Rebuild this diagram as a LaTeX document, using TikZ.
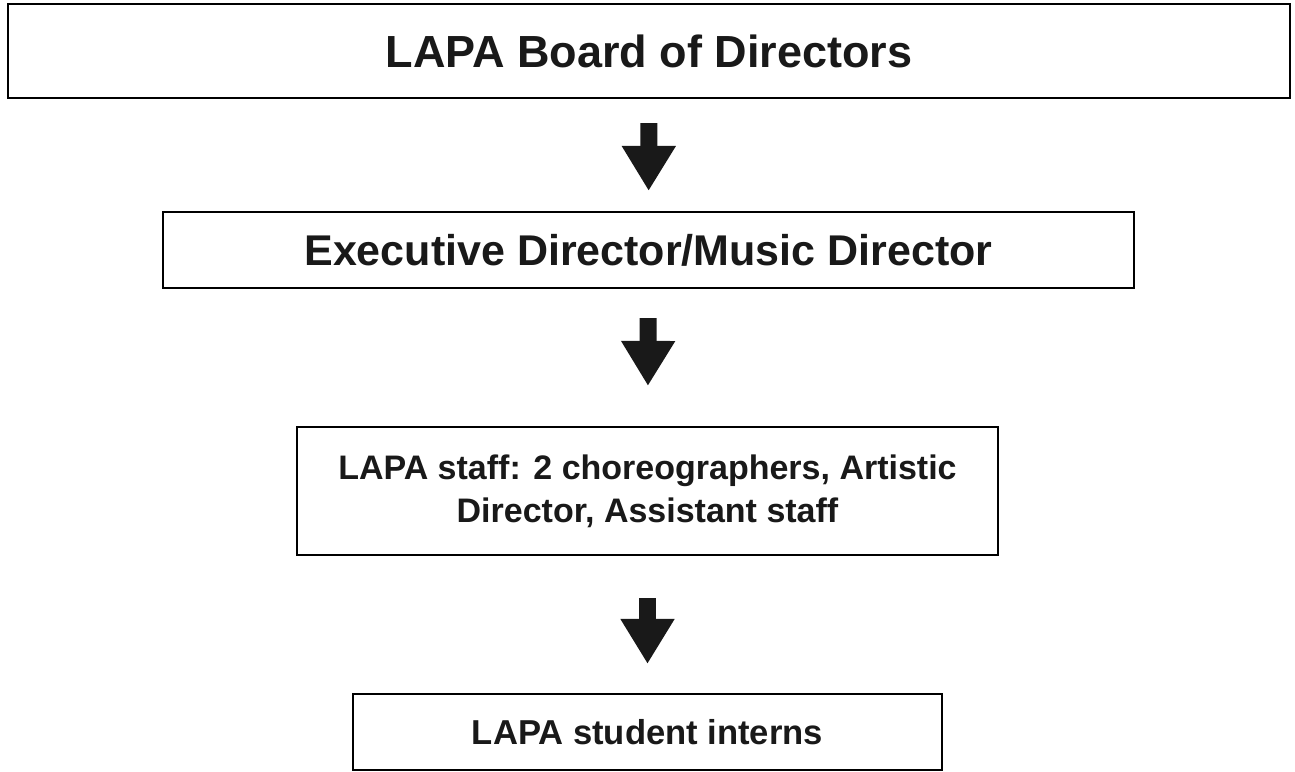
\documentclass[tikz,border=0pt]{standalone}
\usepackage{fontspec}
\setmainfont{Liberation Sans}
\usetikzlibrary{arrows.meta}
\tikzstyle{boite}=[rectangle,draw,line width=1.1pt,fill=white,
text=black!90,font=\bfseries,align=center,inner sep=0pt]
\tikzstyle{fleche}=[line width=8.5pt,black!90,
-{Triangle[width=25.5pt,length=22.5pt]}]

\begin{document}
\begin{tikzpicture}[x=0.5pt,y=-0.5pt]
\useasboundingbox (0,0) rectangle (1295,771);
\node[boite,minimum width=641pt,minimum height=47pt,font=\bfseries\fontsize{22.5}{27}\selectfont] (B) at (649,51) {LAPA Board of Directors};
\node[boite,minimum width=485.5pt,minimum height=38pt,font=\bfseries\fontsize{21.5}{26}\selectfont] (E) at (648.5,250) {Executive Director/Music Director};
\node[boite,minimum width=350.5pt,minimum height=64pt,font=\bfseries\fontsize{17}{21.5}\selectfont] (S) at (647.5,491) {LAPA staff: 2 choreographers, Artistic\\Director, Assistant staff};
\node[boite,minimum width=294.5pt,minimum height=38pt,font=\bfseries\fontsize{17.3}{21}\selectfont] (I) at (647.5,732) {LAPA student interns};
\draw[fleche,shorten <=12pt,shorten >=10pt] (B)--(E);
\draw[fleche,shorten <=14.5pt,shorten >=20pt] (E)--(S);
\draw[fleche,shorten <=21pt,shorten >=14.5pt] (S)--(I);
\end{tikzpicture}
\end{document}
